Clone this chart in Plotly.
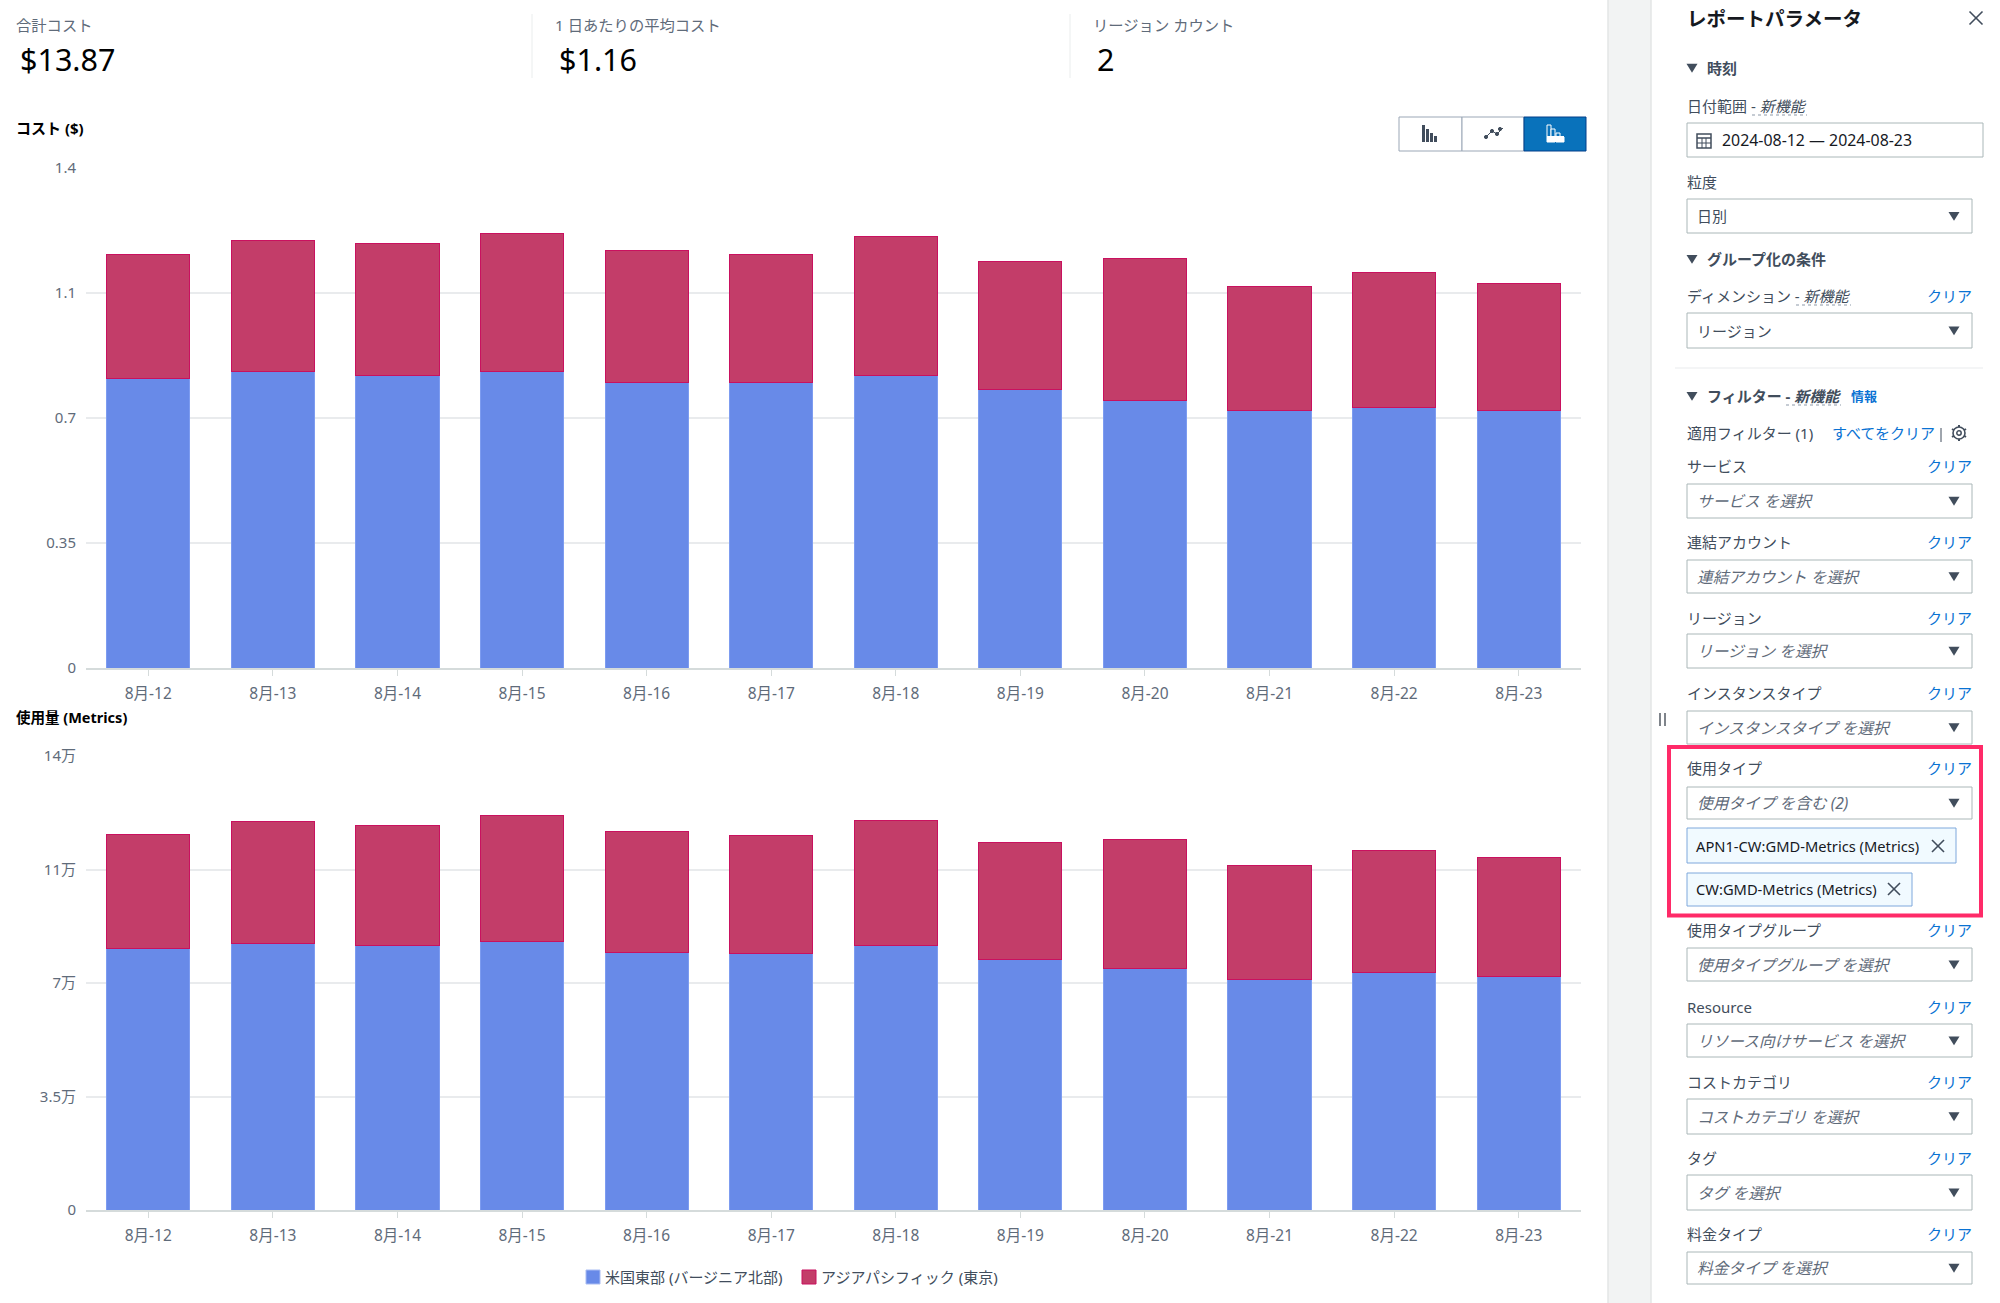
import plotly.graph_objects as go
from plotly.subplots import make_subplots

W, H = 2000, 1303
FONT = "Noto Sans, Noto Sans CJK JP, sans-serif"

# ---- chart data ----
dates = ["8月-12","8月-13","8月-14","8月-15","8月-16","8月-17","8月-18","8月-19","8月-20","8月-21","8月-22","8月-23"]
series_names = ["米国東部 (バージニア北部)", "アジアパシフィック (東京)"]
cost_us = [0.81,0.83,0.82,0.83,0.80,0.80,0.82,0.78,0.75,0.72,0.73,0.72]
cost_ap = [0.348,0.368,0.368,0.388,0.368,0.358,0.388,0.358,0.398,0.348,0.378,0.358]
usage_us = [80600,82100,81700,82900,79400,79000,81500,77400,74600,71100,73100,71900]
usage_ap = [35100,37600,37000,38700,37300,36500,38700,35900,39700,35100,37700,36700]
cost_tickvals = [0,0.35,0.7,1.05,1.4]
cost_ticktext = ["0","0.35","0.7","1.1","1.4"]
usage_tickvals = [0,35000,70000,105000,140000]
usage_ticktext = ["0","3.5万","7万","11万","14万"]
kpi_labels = ["合計コスト","1 日あたりの平均コスト","リージョン カウント"]
kpi_values = ["$13.87","$1.16","2"]
chip_labels = ["APN1-CW:GMD-Metrics (Metrics)","CW:GMD-Metrics (Metrics)"]

BLUE, RED = "#688ae8", "#c33d69"
TXT, MUTED, LINK = "#16191f", "#5f6b7a", "#0972d3"
BOX = "#aab7b8"

px = lambda x: x / W
py = lambda y: 1 - y / H

fig = make_subplots(rows=2, cols=1)
for row, (a, b) in enumerate([(cost_us, cost_ap), (usage_us, usage_ap)], start=1):
    fig.add_trace(go.Bar(x=dates, y=a, name=series_names[0], showlegend=False,
                         marker=dict(color=BLUE, line=dict(color="#7d9cf0", width=1))), row=row, col=1)
    fig.add_trace(go.Bar(x=dates, y=b, name=series_names[1], showlegend=False,
                         marker=dict(color=RED, line=dict(color="#c9115f", width=1))), row=row, col=1)

shapes, annos = [], []

def T(x, y, s, size=15, color=TXT, anchor="left", weight=None):
    annos.append(dict(x=px(x), y=py(y), xref="paper", yref="paper", text=s, showarrow=False,
                      xanchor=anchor, yanchor="middle", borderpad=0,
                      font=dict(family=FONT, size=size, color=color, weight=weight)))

def R(x0, y0, x1, y1, fill="rgba(0,0,0,0)", line=None, w=1, below=False):
    shapes.append(dict(type="rect", xref="paper", yref="paper", x0=px(x0), x1=px(x1), y0=py(y0), y1=py(y1),
                       fillcolor=fill, line=dict(color=line or fill, width=w if line else 0),
                       layer="below" if below else "above"))

def L(x0, y0, x1, y1, color="#e9ebed", w=1, dash="solid"):
    shapes.append(dict(type="line", xref="paper", yref="paper", x0=px(x0), x1=px(x1), y0=py(y0), y1=py(y1),
                       line=dict(color=color, width=w, dash=dash)))

def POLY(points, fill):
    d = "M " + " L ".join(f"{px(x):.5f} {py(y):.5f}" for x, y in points) + " Z"
    shapes.append(dict(type="path", xref="paper", yref="paper", path=d, fillcolor=fill, line=dict(width=0)))

def CIRC(cx, cy, r, fill="rgba(0,0,0,0)", line=None, w=1):
    shapes.append(dict(type="circle", xref="paper", yref="paper", x0=px(cx - r), x1=px(cx + r),
                       y0=py(cy - r), y1=py(cy + r), fillcolor=fill, line=dict(color=line or fill, width=w)))

def tri(cx, cy, s=5.5, color="#414d5c"):
    POLY([(cx - s, cy - s * 0.75), (cx + s, cy - s * 0.75), (cx, cy + s * 0.85)], color)

def cross(cx, cy, s=6, color="#414d5c"):
    L(cx - s, cy - s, cx + s, cy + s, color, 1.6)
    L(cx - s, cy + s, cx + s, cy - s, color, 1.6)

def new_tag(x0, x1, y):
    L(x0, y, x1, y, "#8d99a8", 1, "dot")

def select(y0, y1, text, italic=True, color="#5f6b7a"):
    R(1687, y0, 1972, y1, "#ffffff", BOX, 1)
    if italic:
        T(1696, (y0 + y1) / 2, f"<i>{text}</i>", size=15.7, color=color)
    else:
        T(1695.5, (y0 + y1) / 2, text, size=15, color=color)
    tri(1954, (y0 + y1) / 2, 5.5)

def field(y_label, y0, y1, label, placeholder):
    T(1686, y_label, label, color="#414d5c")
    T(1973, y_label, "クリア", color=LINK, anchor="right")
    select(y0, y1, placeholder)

# ---- KPI header ----
for x, xv, lab, val in zip([15, 554, 1092], [19, 558, 1096], kpi_labels, kpi_values):
    T(x, 25, lab, 15.3, MUTED)
    T(xv, 59, val, 30.5, "#000000")
L(532, 14, 532, 78, "#eaeded")
L(1070, 14, 1070, 78, "#eaeded")
T(15, 128, "コスト ($)", 15, "#000000", weight=700)
T(15, 717, "使用量 (Metrics)", 14.5, "#000000", weight=700)

# ---- legend ----
R(586, 1270, 600, 1284, BLUE, "#a9bcf2", 1)
T(604, 1277, series_names[0], 15, "#414d5c")
R(802, 1270, 816, 1284, RED, "#c9115f", 1)
T(820, 1277, series_names[1], 15, "#414d5c")

# ---- chart-type buttons ----
R(1399, 117, 1462, 151, "#ffffff", "#9ba7b6", 1)
R(1462, 117, 1524, 151, "#ffffff", "#9ba7b6", 1)
R(1524, 117, 1586, 151, "#0972bb", "#033f8a", 1)
for x, y0, w_ in [(1422, 125, 3), (1426, 129, 3), (1430, 133, 3), (1434, 136, 3)]:
    R(x, y0, x + w_, 142, "#414d5c")
for (a, b), (c, d) in [((1486, 137), (1492, 131)), ((1492, 131), (1497, 134)), ((1497, 134), (1503, 128))]:
    L(a, b, c, d, "#414d5c", 1)
for a, b in [(1486, 137), (1492, 131), (1497, 134), (1500, 129)]:
    CIRC(a, b, 1.6, "#414d5c")
for x, y0, y1 in [(1547, 125, 142), (1551, 129, 142), (1556, 133, 142), (1560, 137, 142)]:
    R(x, y0, x + 4, y1, "#0972bb", "#ffffff", 1)
R(1547, 136, 1564, 142, "#ffffff")

# ---- side panel ----
R(1608, 0, 1651, H, "#f2f3f3", below=True)
L(1608, 0, 1608, H, "#e3e6e6", 1.5)
L(1651, 0, 1651, H, "#e3e6e6", 1.5)
L(1660, 713, 1660, 726, "#545b64", 1.5)
L(1665, 713, 1665, 726, "#545b64", 1.5)

T(1686, 18, "レポートパラメータ", 19.5, TXT, weight=700)
cross(1976, 18, 6.5, "#414d5c")

tri(1692, 68)
T(1706, 68, "時刻", 15, "#414d5c", weight=700)
T(1686, 106, "日付範囲 - <i>新機能</i>", color="#414d5c")
new_tag(1752, 1807, 115)
R(1687, 123, 1983, 157, "#ffffff", BOX, 1)
T(1721, 140, "2024-08-12 — 2024-08-23", 15.9, TXT)
R(1697, 134, 1711, 148, "#ffffff", "#414d5c", 1.5)
L(1697, 138, 1711, 138, "#414d5c", 1.5)
L(1702, 138, 1702, 148, "#414d5c", 1)
L(1706, 138, 1706, 148, "#414d5c", 1)
L(1697, 143, 1711, 143, "#414d5c", 1)

T(1686, 182, "粒度", color="#414d5c")
select(199, 233, "日別", italic=False, color="#414d5c")

tri(1692, 259)
T(1706, 259, "グループ化の条件", 15, "#414d5c", weight=700)
T(1686, 296, "ディメンション - <i>新機能</i>", color="#414d5c")
new_tag(1796, 1851, 305)
T(1973, 296, "クリア", color=LINK, anchor="right")
select(313, 348, "リージョン", italic=False, color="#414d5c")
L(1675, 368, 1983, 368, "#e9ebed")

tri(1692, 396)
T(1706, 396, "フィルター - <i>新機能</i>", 15, "#414d5c", weight=700)
new_tag(1786, 1841, 405)
T(1850, 396, "情報", 13, LINK, weight=700)
T(1686, 433, "適用フィルター (1)", color="#414d5c")
T(1831, 433, "すべてをクリア", color=LINK)
L(1941, 428, 1941, 442, "#414d5c", 1)
for dx, dy in [(0, 8), (0, -8), (7, 4), (-7, 4), (7, -4), (-7, -4)]:
    L(1959 + dx * 0.75, 433 + dy * 0.75, 1959 + dx, 433 + dy, "#414d5c", 2)
CIRC(1959, 433, 6, "#ffffff", "#414d5c", 1.6)
CIRC(1959, 433, 2.2, "#ffffff", "#414d5c", 1.5)

field(466, 484, 518, "サービス", "サービス を選択")
field(542, 560, 593, "連結アカウント", "連結アカウント を選択")
field(618, 634, 668, "リージョン", "リージョン を選択")
field(693, 711, 744, "インスタンスタイプ", "インスタンスタイプ を選択")

R(1669, 747, 1981, 915.5, "rgba(0,0,0,0)", "#ff2a68", 4)
field(768, 787, 819, "使用タイプ", "使用タイプ を含む (2)")
R(1687, 828, 1956, 863, "#f1faff", "#7fa8dc", 1)
T(1695, 846, chip_labels[0], 14.7, TXT)
cross(1938, 846, 6, "#414d5c")
R(1687, 873, 1912, 906, "#f1faff", "#7fa8dc", 1)
T(1695, 889, chip_labels[1], 14.7, TXT)
cross(1894, 889, 6, "#414d5c")

field(930, 948, 981, "使用タイプグループ", "使用タイプグループ を選択")
field(1007, 1024, 1057, "Resource", "リソース向けサービス を選択")
field(1082, 1099, 1134, "コストカテゴリ", "コストカテゴリ を選択")
field(1158, 1175, 1210, "タグ", "タグ を選択")
field(1234, 1252, 1284, "料金タイプ", "料金タイプ を選択")

fig.update_layout(
    width=W, height=H, autosize=False, margin=dict(l=0, r=0, t=0, b=0, pad=0, autoexpand=False),
    paper_bgcolor="#ffffff", plot_bgcolor="#ffffff", barmode="stack", bargap=0.333,
    font=dict(family=FONT, size=14, color=MUTED),
    shapes=shapes, annotations=annos, showlegend=False,
)
common_x = dict(domain=[px(86), px(1581)], type="category", ticks="outside", ticklen=6, tickcolor="#d5dbdb",
                tickfont=dict(size=15.5, color=MUTED), showgrid=False, showline=True, ticklabelstandoff=4,
                linecolor="#d5dbdb", linewidth=2, fixedrange=True, automargin=False)
fig.update_xaxes(**common_x)
common_y = dict(showgrid=True, gridcolor="#e9ebed", gridwidth=1.5, zeroline=False, showline=False, ticks="",
                tickfont=dict(size=15, color=MUTED), ticklabelstandoff=9, fixedrange=True, automargin=False)
fig.update_yaxes(**common_y)
fig.update_yaxes(domain=[py(668), py(168)], range=[0, 1.4], tickmode="array",
                 tickvals=cost_tickvals, ticktext=cost_ticktext, row=1, col=1)
fig.update_yaxes(domain=[py(1210), py(756)], range=[0, 140000], tickmode="array",
                 tickvals=usage_tickvals, ticktext=usage_ticktext, row=2, col=1)

fig.write_html("out.html", config={"displayModeBar": False},
               post_script="document.body.style.margin='0';document.body.style.overflow='hidden';")
